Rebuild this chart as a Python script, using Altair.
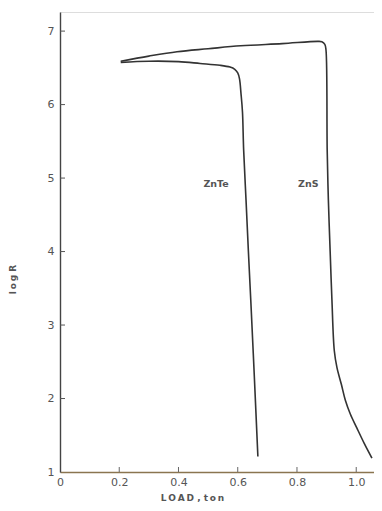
import altair as alt
import pandas as pd

# ZnS curve (LOAD ton, log R)
zns_x = [0.205, 0.30, 0.395, 0.50, 0.61, 0.75, 0.87, 0.884, 0.894, 0.898, 0.902, 0.906, 0.912, 0.918, 0.926, 0.935, 0.950, 0.963, 0.980, 1.002, 1.027, 1.053]
zns_y = [6.59, 6.66, 6.72, 6.76, 6.80, 6.83, 6.86, 6.855, 6.82, 6.74, 5.38, 4.70, 4.00, 3.34, 2.65, 2.42, 2.19, 1.98, 1.79, 1.60, 1.39, 1.19]

# ZnTe curve
znte_x = [0.205, 0.30, 0.40, 0.473, 0.54, 0.574, 0.590, 0.600, 0.606, 0.611, 0.616, 0.620, 0.628, 0.636, 0.644, 0.656, 0.668]
znte_y = [6.575, 6.59, 6.585, 6.56, 6.535, 6.51, 6.48, 6.43, 6.35, 6.15, 5.90, 5.38, 4.70, 4.00, 3.34, 2.30, 1.21]

label_text = ["ZnTe", "ZnS"]
label_x = [0.527, 0.838]
label_y = [4.92, 4.92]

x_ticks = [0, 0.2, 0.4, 0.6, 0.8, 1.0]
y_ticks = [1, 2, 3, 4, 5, 6, 7]

rows = []
for i, (a, b) in enumerate(zip(zns_x, zns_y)):
    rows.append({"series": "ZnS", "i": i, "load": a, "logR": b})
for i, (a, b) in enumerate(zip(znte_x, znte_y)):
    rows.append({"series": "ZnTe", "i": i, "load": a, "logR": b})
curves = pd.DataFrame(rows)
labels = pd.DataFrame({"t": label_text, "load": label_x, "logR": label_y})
xt = pd.DataFrame({"v": [v for v in x_ticks if v > 0]})
yt = pd.DataFrame({"v": [v for v in y_ticks if v > 1]})

FONT = "DejaVu Sans"
xscale = alt.Scale(domain=[0, 1.06], nice=False, zero=False)
yscale = alt.Scale(domain=[1, 7.26], nice=False, zero=False)

xaxis = alt.Axis(
    values=x_ticks, ticks=False, grid=False, domainColor="#8a7550", domainWidth=1.6,
    labelFont=FONT, labelFontSize=11, labelColor="#555", labelPadding=4,
    labelExpr="datum.value == 0 ? '0' : format(datum.value, '.1f')",
    labelFlush=False,
    title="L\u2009O\u2009A\u2009D ,  t\u2009o\u2009n", titleFont=FONT, titleFontSize=9,
    titleFontWeight="bold", titleColor="#555", titleX=132, titleY=25, titleAlign="center",
    titleBaseline="middle",
)
yaxis = alt.Axis(
    values=y_ticks, ticks=False, grid=False, domainColor="#444", domainWidth=1.4,
    labelFont=FONT, labelFontSize=11, labelColor="#555", labelPadding=6,
    labelFlush=False, format="d",
    title="l\u2009o\u2009g  R", titleFont=FONT, titleFontSize=9, titleFontWeight="bold",
    titleColor="#555", titleX=-48, titleY=267, titleAngle=-90, titleAlign="center",
    titleBaseline="middle",
)

lines = alt.Chart(curves).mark_line(color="#333", strokeWidth=1.6, interpolate="catmull-rom").encode(
    x=alt.X("load:Q", scale=xscale, axis=xaxis),
    y=alt.Y("logR:Q", scale=yscale, axis=yaxis),
    detail="series:N",
    order="i:Q",
)

text = alt.Chart(labels).mark_text(font=FONT, fontSize=9.5, fontWeight="bold", color="#555").encode(
    x=alt.X("load:Q", scale=xscale),
    y=alt.Y("logR:Q", scale=yscale),
    text="t:N",
)

xticks = alt.Chart(xt).mark_rule(color="#666", strokeWidth=1).encode(
    x=alt.X("v:Q", scale=xscale),
    y=alt.value(460),
    y2=alt.value(455),
)
yticks = alt.Chart(yt).mark_rule(color="#555", strokeWidth=1).encode(
    y=alt.Y("v:Q", scale=yscale),
    x=alt.value(0),
    x2=alt.value(5),
)

chart = alt.layer(xticks, yticks, lines, text).properties(
    width=314, height=460,
    autosize=alt.AutoSizeParams(type="none"),
    padding={"left": 52, "top": 4, "right": 0, "bottom": 30},
).configure_view(stroke=None).configure(background="white")

chart.save("out.html", embed_options={"renderer": "svg", "actions": False})
